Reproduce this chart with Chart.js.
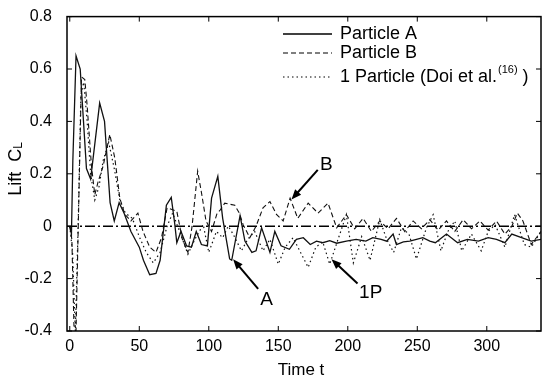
<!DOCTYPE html>
<html><head><meta charset="utf-8">
<script src="https://cdn.jsdelivr.net/npm/chart.js@4.4.0/dist/chart.umd.min.js"></script>
<style>html,body{margin:0;padding:0;background:#fff;}#wrap{width:542px;height:383px;}</style>
</head><body><div id="wrap"><canvas id="c" width="542" height="383"></canvas></div>
<script>
// ---- data ----
const timeA=[0,1.2,2.2,4.5,7.5,12,15,21.5,25,29,32,35.5,39,44,50,53,57.5,62,65,69.5,73,75.5,77,80,84,87.5,91,94.7,99,102,106.5,110,115,116.5,122.5,126,131,134,138,144,147.5,152,158,163,168,173,177.5,182,187,192,199,206,213,218,224,228,232.6,235,240,244.6,249.4,254,259,263,271,279,286,294,301,307,313,318,325,332,339];
const liftA=[0,-0.03,0.25,0.65,0.60,0.22,0.18,0.47,0.40,0.09,0.02,0.09,0.05,-0.02,-0.08,-0.13,-0.185,-0.18,-0.13,0.08,0.11,0.01,-0.063,-0.02,-0.075,-0.08,-0.02,-0.07,-0.075,0.107,0.19,0.03,-0.125,-0.13,0.04,-0.057,-0.1,-0.094,-0.006,-0.1,-0.02,-0.075,-0.088,-0.05,-0.044,-0.07,-0.057,-0.063,-0.055,-0.065,-0.057,-0.05,-0.057,-0.044,-0.05,-0.057,-0.03,-0.07,-0.06,-0.057,-0.05,-0.044,-0.057,-0.063,-0.03,-0.063,-0.05,-0.057,-0.044,-0.05,-0.063,-0.03,-0.044,-0.057,-0.05];
const timeB=[0,1.5,3,4.5,6.5,8.4,10.8,12.5,15.6,18,20.4,24,28.8,32.4,36,39.6,44,49,52.7,57.5,62,66,70,77,81,85,88,92,95,98,102,106,108,111.5,118.7,122,124.7,129.5,134,139,144,148.7,153.5,158.5,164,171.5,178.6,185.8,192,199,205,211,217,223,229,235,241,247,253,259,265,271,277,283,289,295,301,307,313,318,322,326,332,339];
const liftB=[0,-0.05,-0.38,-0.40,0.1,0.57,0.56,0.46,0.23,0.12,0.17,0.23,0.35,0.26,0.107,0.045,0.02,0.05,-0.02,-0.08,-0.1,-0.044,0.07,0.057,-0.05,-0.1,0.0,0.21,0.12,0.02,-0.02,0.05,0.06,0.088,0.08,0.05,0.006,-0.044,0.0,0.07,0.094,0.045,0.02,0.107,0.03,0.088,0.05,0.088,-0.006,0.044,-0.01,0.03,-0.02,0.02,-0.01,0.03,-0.02,0.02,-0.01,0.025,-0.015,0.02,-0.02,0.025,-0.01,0.02,-0.015,0.02,-0.03,0.0,0.05,0.02,-0.07,-0.02];
const timeP=[0,2,4,6,8,10,12.5,15,18,21,24,28,32,36,40,45,50,55,60,65,70,74,79,85,90,96,100,105.5,110,114,117.5,123.5,128,133,139,144,150,155,160.6,166,171.5,177,182,187,193,199,204,210,216,223,228,233,238.6,244,249.4,256.6,261.4,267,272,277,282,289,296,301,306,313,320,327,332,339];
const liftP=[0,-0.1,-0.4,0.0,0.5,0.55,0.4,0.2,0.1,0.15,0.25,0.32,0.22,0.1,0.05,0.03,-0.04,-0.1,-0.14,-0.1,0.0,0.05,-0.02,-0.107,-0.05,0.006,-0.1,-0.02,-0.044,0.0,-0.03,-0.094,-0.05,-0.02,-0.094,-0.05,-0.145,-0.08,-0.044,-0.1,-0.157,-0.08,-0.06,-0.145,-0.05,0.044,-0.14,-0.04,-0.13,0.025,-0.05,-0.1,-0.006,-0.03,-0.125,-0.006,0.044,-0.094,-0.02,0.02,-0.094,-0.03,-0.094,-0.02,0.006,-0.08,0.044,-0.07,-0.08,-0.02];
const zeroLine=[[-2,0],[339,0]];
const xTicks=[0,50,100,150,200,250,300];
const yTicks=[-0.4,-0.2,0,0.2,0.4,0.6,0.8];
const seriesNames=['Particle A','Particle B','1 Particle (Doi et al.'];
const refMark='(16)';
const arrowLabels=['A','B','1P'];
const arrowTip=[[117.5,-0.126],[159.5,0.102],[188.3,-0.126]];
const arrowTail=[[135.5,-0.239],[178.4,0.215],[207,-0.219]];
const labelPos=[[141.5,-0.28],[184.5,0.235],[216.5,-0.255]];

const pts=(t,v)=>t.map((x,i)=>({x:x,y:v[i]}));
const FONT='"Liberation Sans", Arial, sans-serif';
const styles=[{dash:[],w:1.3},{dash:[5,3],w:1.1},{dash:[1.5,3],w:1.2}];

const framePlugin={
  id:'frame',
  afterDatasetsDraw(chart){
    const ctx=chart.ctx, a=chart.chartArea, xs=chart.scales.x, ys=chart.scales.y;
    ctx.save();
    ctx.strokeStyle='#000'; ctx.lineWidth=1.5; ctx.setLineDash([]);
    ctx.strokeRect(a.left,a.top,a.right-a.left,a.bottom-a.top);
    ctx.lineWidth=1;
    ctx.beginPath();
    xTicks.forEach(t=>{const p=xs.getPixelForValue(t);ctx.moveTo(p,a.bottom);ctx.lineTo(p,a.bottom-5);ctx.moveTo(p,a.top);ctx.lineTo(p,a.top+5);});
    yTicks.forEach(t=>{const p=ys.getPixelForValue(t);ctx.moveTo(a.left,p);ctx.lineTo(a.left+5,p);ctx.moveTo(a.right,p);ctx.lineTo(a.right-5,p);});
    ctx.stroke();
    // legend
    const lx0=283, lx1=332, tx=340, rows=[34,53,77];
    ctx.fillStyle='#000'; ctx.textBaseline='middle'; ctx.textAlign='left';
    rows.forEach((y,i)=>{
      ctx.lineWidth=styles[i].w; ctx.setLineDash(styles[i].dash);
      ctx.beginPath(); ctx.moveTo(lx0,y); ctx.lineTo(lx1,y); ctx.stroke();
      ctx.setLineDash([]);
      ctx.font='18px '+FONT;
      ctx.fillText(seriesNames[i],tx,y);
    });
    ctx.font='18px '+FONT;
    let w=ctx.measureText(seriesNames[2]).width;
    ctx.font='11px '+FONT; ctx.fillText(refMark,tx+w+1,rows[2]-7);
    let w2=ctx.measureText(refMark).width;
    ctx.font='18px '+FONT; ctx.fillText(' )',tx+w+w2+1,rows[2]);
    // arrows
    ctx.lineWidth=2; ctx.strokeStyle='#000';
    arrowTip.forEach((tp,i)=>{
      const x1=xs.getPixelForValue(arrowTail[i][0]), y1=ys.getPixelForValue(arrowTail[i][1]);
      const x2=xs.getPixelForValue(tp[0]), y2=ys.getPixelForValue(tp[1]);
      const ang=Math.atan2(y2-y1,x2-x1);
      ctx.beginPath(); ctx.moveTo(x1,y1); ctx.lineTo(x2-6*Math.cos(ang),y2-6*Math.sin(ang)); ctx.stroke();
      ctx.beginPath(); ctx.moveTo(x2,y2);
      ctx.lineTo(x2-10*Math.cos(ang)+4*Math.sin(ang),y2-10*Math.sin(ang)-4*Math.cos(ang));
      ctx.lineTo(x2-10*Math.cos(ang)-4*Math.sin(ang),y2-10*Math.sin(ang)+4*Math.cos(ang));
      ctx.closePath(); ctx.fill();
      ctx.font='19px '+FONT; ctx.textAlign='center'; ctx.textBaseline='middle';
      ctx.fillText(arrowLabels[i],xs.getPixelForValue(labelPos[i][0]),ys.getPixelForValue(labelPos[i][1]));
    });
    // axis titles
    ctx.font='17px '+FONT; ctx.textAlign='center'; ctx.textBaseline='middle';
    ctx.fillText('Time t',301,370);
    ctx.save(); ctx.translate(16,(a.top+a.bottom)/2-5); ctx.rotate(-Math.PI/2);
    ctx.textAlign='left';
    const t1='Lift  C'; ctx.font='18px '+FONT;
    const tw=ctx.measureText(t1).width; ctx.font='12px '+FONT; const lw=ctx.measureText('L').width;
    const start=-(tw+lw)/2;
    ctx.font='18px '+FONT; ctx.fillText(t1,start,0);
    ctx.font='12px '+FONT; ctx.fillText('L',start+tw,3);
    ctx.restore();
    ctx.restore();
  }
};

new Chart(document.getElementById('c'),{
  type:'line',
  data:{datasets:[
    {label:'Particle A',data:pts(timeA,liftA),borderColor:'#111',borderWidth:styles[0].w,borderDash:styles[0].dash,pointRadius:0,tension:0,fill:false},
    {label:'Particle B',data:pts(timeB,liftB),borderColor:'#111',borderWidth:styles[1].w,borderDash:styles[1].dash,pointRadius:0,tension:0,fill:false},
    {label:'1 Particle',data:pts(timeP,liftP),borderColor:'#111',borderWidth:styles[2].w,borderDash:styles[2].dash,pointRadius:0,tension:0,fill:false},
    {label:'zero',data:zeroLine.map(p=>({x:p[0],y:p[1]})),borderColor:'#000',borderWidth:1.6,borderDash:[10,3,2,3],pointRadius:0,fill:false}
  ]},
  options:{
    responsive:false,animation:false,devicePixelRatio:1,
    layout:{padding:{top:13,right:1,left:0,bottom:0}},
    plugins:{legend:{display:false},tooltip:{enabled:false}},
    scales:{
      x:{type:'linear',min:-2,max:339,
        afterBuildTicks:s=>{s.ticks=xTicks.map(v=>({value:v}));},
        afterFit:s=>{s.height=52;},
        grid:{display:false},border:{display:false},
        ticks:{color:'#000',font:{family:FONT,size:16},padding:-2,maxRotation:0,callback:v=>String(v)}},
      y:{type:'linear',min:-0.4,max:0.8,
        afterBuildTicks:s=>{s.ticks=yTicks.map(v=>({value:v}));},
        afterFit:s=>{s.width=67;},
        grid:{display:false},border:{display:false},
        ticks:{color:'#000',font:{family:FONT,size:16},padding:7,callback:v=>v===0?'0':Number(v).toFixed(1)}}
    }
  },
  plugins:[framePlugin]
});
</script></body></html>
